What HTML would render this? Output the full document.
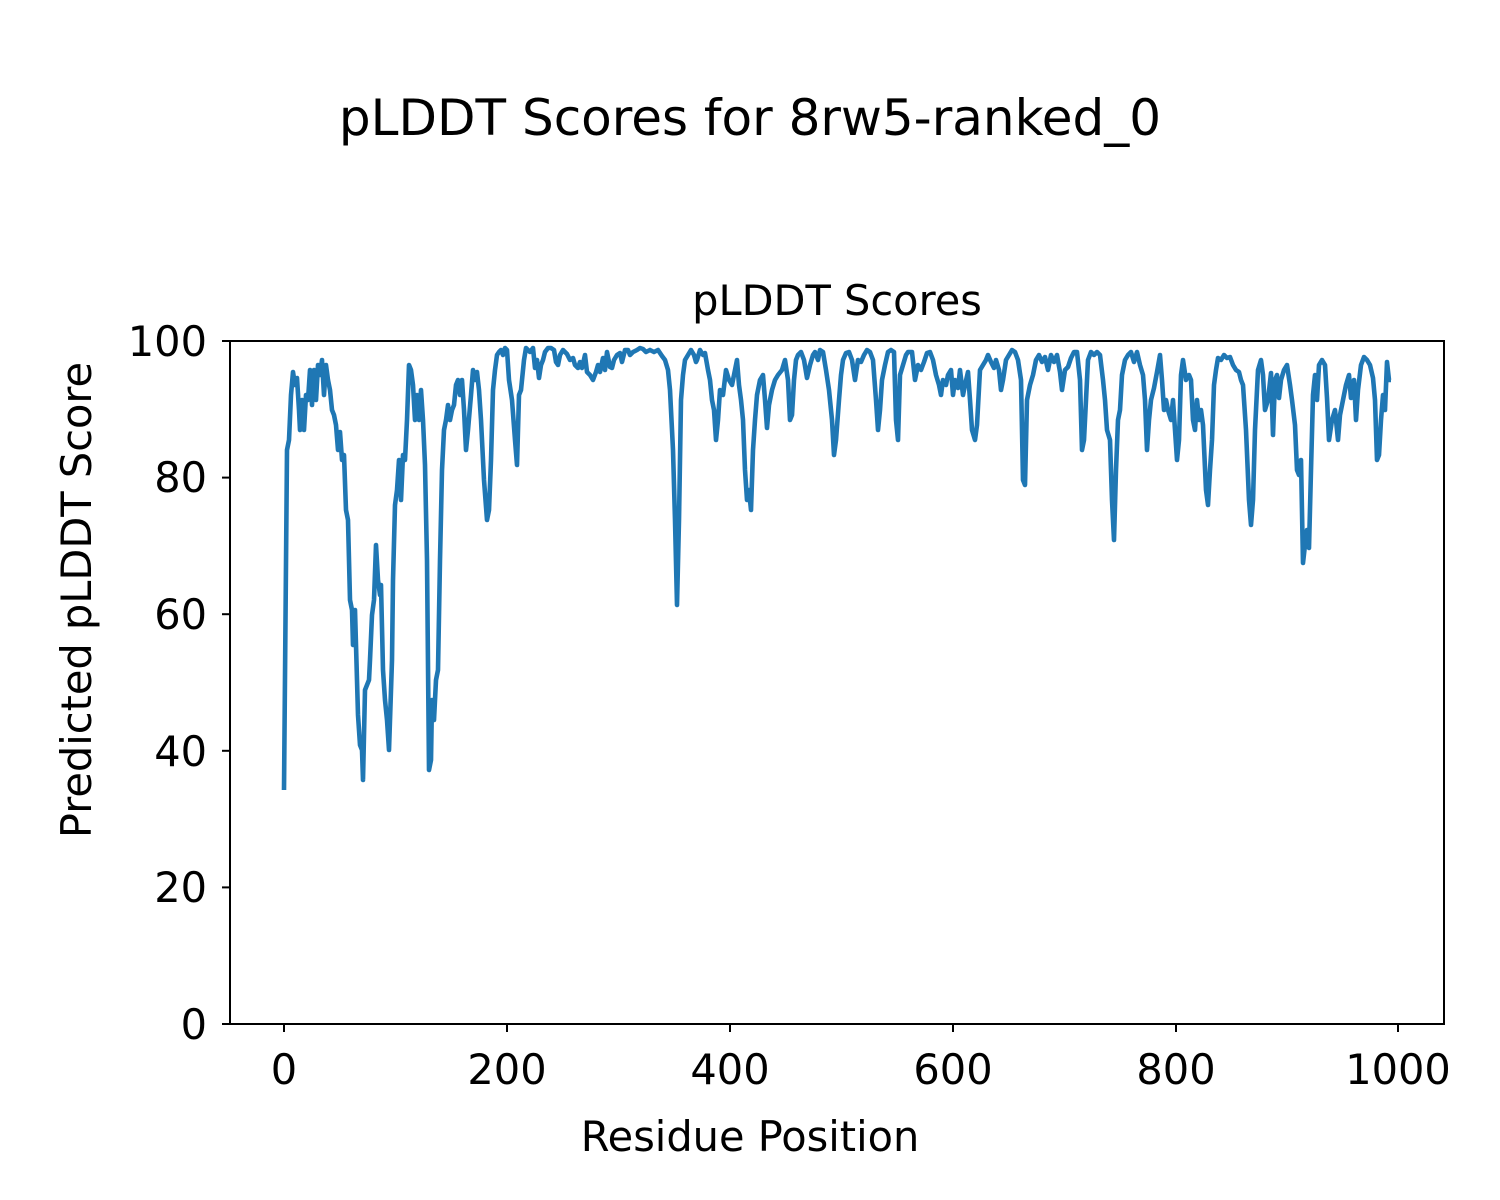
<!DOCTYPE html>
<html><head><meta charset="utf-8"><style>body{margin:0;background:#fff}svg{display:block}text{font-family:"DejaVu Sans","Liberation Sans",sans-serif;fill:#000}</style></head><body>
<svg width="1500" height="1200" viewBox="0 0 1500 1200" xmlns="http://www.w3.org/2000/svg">
<rect width="1500" height="1200" fill="#fff"/>
<text x="750" y="135" font-size="50" text-anchor="middle">pLDDT Scores for 8rw5-ranked_0</text>
<text x="837" y="315" font-size="41.5" text-anchor="middle">pLDDT Scores</text>
<polyline fill="none" stroke="#1f77b4" stroke-width="4.6" stroke-linejoin="round" points="284,790 287,450 289,440 291,395 293,372 295,385 297,378 299,410 300,430 302,400 304,430 306,395 308,400 310,370 312,405 314,370 316,400 318,365 320,375 322,360 324,395 326,365 328,380 330,390 332,410 334,415 336,425 338,450 340,432 342,460 344,455 346,510 348,520 350,600 352,610 353,645 355,610 357,680 358,715 360,745 362,750 363,780 365,690 367,685 369,680 370,660 372,615 374,600 376,545 378,580 380,595 381,585 383,670 385,700 387,720 389,750 390,720 392,660 393,580 395,505 397,490 399,460 401,500 403,455 405,460 407,420 409,365 411,370 413,385 415,420 417,395 419,420 421,390 423,420 425,465 427,560 429,770 431,760 432,700 434,720 436,680 438,670 440,560 442,470 444,430 446,420 448,405 450,420 452,410 454,405 456,385 458,380 460,395 462,380 464,410 466,450 468,430 471,395 473,370 475,380 477,372 479,390 481,420 484,480 487,520 489,510 491,460 493,390 495,370 497,355 499,352 501,350 503,355 505,348 507,350 509,380 512,400 515,440 517,465 519,395 521,390 523,370 524,360 526,348 528,350 530,352 533,348 535,368 537,360 539,378 541,365 543,360 545,352 548,348 551,348 554,350 556,362 558,365 560,355 563,350 567,354 570,360 573,358 575,365 578,368 580,362 582,368 585,355 587,372 590,375 593,380 596,372 598,365 600,372 603,358 605,370 607,352 610,367 612,368 614,360 617,355 620,353 622,362 625,350 628,350 630,355 633,352 637,350 640,348 643,349 646,352 650,350 654,352 658,350 662,356 665,360 668,370 670,390 673,450 675,520 677,605 679,520 681,400 683,375 685,360 688,355 691,350 694,355 696,362 697,360 700,350 703,355 705,353 708,370 710,380 712,400 714,410 716,440 718,420 720,390 723,395 726,370 729,380 732,385 735,370 737,360 739,385 741,400 743,420 745,470 747,500 749,490 751,510 753,450 755,420 757,395 760,380 763,375 765,400 767,428 769,405 772,390 775,380 778,375 782,370 785,360 788,380 790,420 792,415 794,380 796,360 798,355 801,352 804,360 807,378 810,365 813,355 815,352 818,360 820,350 823,352 826,370 829,390 832,420 834,455 836,440 839,400 841,375 843,360 846,353 849,352 852,360 855,380 858,360 861,362 864,355 867,350 870,352 873,360 876,400 878,430 880,410 882,380 885,365 888,352 891,350 894,352 896,420 898,440 900,375 903,365 906,355 908,352 912,352 915,380 918,365 921,370 924,362 927,353 930,352 933,360 936,375 939,385 941,395 943,380 946,385 948,375 951,370 953,395 955,380 958,388 960,370 963,395 965,385 968,372 970,400 972,430 975,440 977,425 980,370 983,365 986,360 988,355 991,362 994,368 996,360 999,370 1001,390 1003,380 1006,360 1009,355 1012,350 1015,352 1018,360 1021,380 1023,480 1025,485 1027,400 1030,385 1033,375 1036,360 1039,355 1042,362 1045,357 1048,370 1051,355 1054,362 1057,355 1060,372 1062,390 1065,370 1068,367 1071,358 1074,352 1077,352 1080,380 1082,450 1084,440 1086,400 1088,360 1091,352 1094,355 1097,352 1100,355 1103,380 1105,400 1107,430 1110,440 1112,500 1114,540 1116,470 1118,420 1120,410 1122,375 1125,360 1128,355 1131,352 1134,362 1137,352 1140,365 1143,375 1145,400 1147,450 1149,420 1151,400 1154,388 1157,372 1160,355 1162,380 1164,410 1166,400 1168,410 1171,420 1173,400 1175,430 1177,460 1179,440 1181,375 1183,360 1186,380 1189,375 1191,380 1193,420 1195,430 1197,400 1199,420 1201,410 1203,425 1206,490 1208,505 1210,470 1212,440 1214,385 1216,370 1218,358 1221,360 1224,355 1227,358 1230,357 1233,365 1236,370 1239,372 1241,380 1243,385 1246,430 1249,500 1251,525 1253,500 1255,430 1258,370 1261,360 1263,375 1265,410 1268,400 1271,373 1273,435 1275,380 1277,375 1279,398 1281,380 1284,370 1287,365 1290,385 1292,400 1295,425 1297,470 1299,475 1301,460 1303,563 1305,545 1307,530 1309,548 1311,470 1313,395 1315,375 1317,400 1319,365 1322,360 1325,365 1327,398 1329,440 1332,420 1335,410 1338,440 1340,415 1343,400 1346,385 1349,375 1351,398 1354,380 1356,420 1358,390 1361,365 1364,357 1367,360 1370,365 1373,378 1375,400 1377,460 1379,455 1381,420 1383,395 1385,410 1387,362 1389,380 1391,380"/>
<rect x="230" y="341" width="1214" height="683" fill="none" stroke="#000" stroke-width="2"/>
<g stroke="#000" stroke-width="2">
<line x1="222" y1="1024" x2="230" y2="1024"/><line x1="222" y1="887.4" x2="230" y2="887.4"/><line x1="222" y1="750.8" x2="230" y2="750.8"/><line x1="222" y1="614.2" x2="230" y2="614.2"/><line x1="222" y1="477.6" x2="230" y2="477.6"/><line x1="222" y1="341" x2="230" y2="341"/>
<line x1="284" y1="1024" x2="284" y2="1032"/><line x1="507" y1="1024" x2="507" y2="1032"/><line x1="730" y1="1024" x2="730" y2="1032"/><line x1="953" y1="1024" x2="953" y2="1032"/><line x1="1176" y1="1024" x2="1176" y2="1032"/><line x1="1398" y1="1024" x2="1398" y2="1032"/>
</g>
<g font-size="41.5" text-anchor="end">
<text x="207" y="1039">0</text><text x="207" y="902">20</text><text x="207" y="766">40</text><text x="207" y="629">60</text><text x="207" y="492">80</text><text x="207" y="356">100</text>
</g>
<g font-size="41.5" text-anchor="middle">
<text x="284" y="1084">0</text><text x="507" y="1084">200</text><text x="730" y="1084">400</text><text x="953" y="1084">600</text><text x="1176" y="1084">800</text><text x="1398" y="1084">1000</text>
<text x="750" y="1151">Residue Position</text>
<text transform="translate(91,600) rotate(-90)">Predicted pLDDT Score</text>
</g>
</svg>
</body></html>
